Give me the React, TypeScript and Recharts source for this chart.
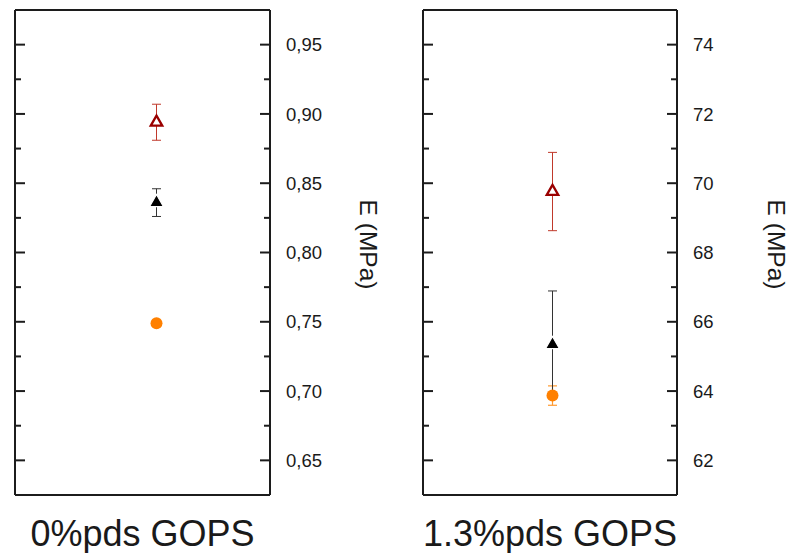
import React from 'react';
import { ScatterChart, Scatter, XAxis, YAxis, ErrorBar, Label } from 'recharts';

// ---- data ----
const categories = ['0%pds GOPS', '1.3%pds GOPS'];
const openRedValues = [0.894, 69.76];
const openRedErrors = [0.013, 1.13];
const blackValues = [0.836, 65.34];
const blackErrors = [0.01, 1.55];
const orangeValues = [0.749, 63.87];
const orangeErrors = [0, 0.28];

const yDomains: [number, number][] = [
  [0.625, 0.975],
  [61, 75],
];
const majorTicks = [
  [0.65, 0.7, 0.75, 0.8, 0.85, 0.9, 0.95],
  [62, 64, 66, 68, 70, 72, 74],
];
const minorTicks = [
  [0.675, 0.725, 0.775, 0.825, 0.875, 0.925],
  [63, 65, 67, 69, 71, 73],
];
const tickDecimals = [2, 0];
const yTitle = 'E (MPa)';

// ---- styles ----
const FONT = "'Liberation Sans', Arial, Helvetica, sans-serif";
const FRAME = '#1c1c1c';
const TEXT = '#1a1a1a';

const panels = [
  { left: 0, width: 400, marginLeft: 14, rightWidth: 130, padLeft: 28, padRight: 0, titleOffset: 98 },
  { left: 400, width: 389, marginLeft: 22, rightWidth: 112, padLeft: 5, padRight: 0, titleOffset: 99 },
];

const isMajor = (v: number, list: number[]) => list.some((m) => Math.abs(m - v) < 1e-9);

const makeRightTick = (idx: number, plotWidth: number) => (props: any) => {
  const { x, y, payload } = props;
  const v = payload.value as number;
  const major = isMajor(v, majorTicks[idx]);
  const len = major ? 10 : 6;
  const xl = x - plotWidth;
  return (
    <g>
      <line x1={x - len} x2={x} y1={y} y2={y} stroke={FRAME} strokeWidth={2} />
      <line x1={xl} x2={xl + len} y1={y} y2={y} stroke={FRAME} strokeWidth={2} />
      {major && (
        <text x={x + 16} y={y} dy="0.36em" fontSize={18.5} fill={TEXT} fontFamily={FONT} textAnchor="start">
          {v.toFixed(tickDecimals[idx]).replace('.', ',')}
        </text>
      )}
    </g>
  );
};

const openTriangle = (props: any) => {
  const { cx, cy } = props;
  const s = 11.5;
  const h = (s * Math.sqrt(3)) / 2;
  const d = `M${cx},${cy - (2 * h) / 3} L${cx + s / 2},${cy + h / 3} L${cx - s / 2},${cy + h / 3} Z`;
  return <path d={d} fill="#ffffff" stroke="#9a0000" strokeWidth={2.3} strokeLinejoin="miter" />;
};

const filledTriangle = (props: any) => {
  const { cx, cy } = props;
  const s = 14;
  const h = (s * Math.sqrt(3)) / 2;
  const d = `M${cx},${cy - (2 * h) / 3} L${cx + s / 2},${cy + h / 3} L${cx - s / 2},${cy + h / 3} Z`;
  return <path d={d} fill="#000000" stroke="#ffffff" strokeWidth={1.2} />;
};

const orangeDot = (props: any) => {
  const { cx, cy } = props;
  return <circle cx={cx} cy={cy} r={6} fill="#ff8000" />;
};

const makeTitle = (offset: number) => (props: any) => {
  const vb = props.viewBox || {};
  const cx = vb.x + offset;
  const cy = vb.y + vb.height / 2 - 8;
  return (
    <text
      x={cx}
      y={cy}
      transform={`rotate(90, ${cx}, ${cy})`}
      textAnchor="middle"
      dominantBaseline="central"
      fontSize={24.5}
      fill={TEXT}
      fontFamily={FONT}
    >
      {yTitle}
    </text>
  );
};

function Panel({ idx }: { idx: number }) {
  const p = panels[idx];
  const cat = categories[idx];
  const plotWidth = p.width - p.marginLeft - 1 - p.rightWidth;
  const ticks = [...majorTicks[idx], ...minorTicks[idx]].sort((a, b) => a - b);
  const orangeData = [{ cat, y: orangeValues[idx], err: orangeErrors[idx] }];
  const blackData = [{ cat, y: blackValues[idx], err: blackErrors[idx] }];
  const redData = [{ cat, y: openRedValues[idx], err: openRedErrors[idx] }];
  return (
    <div style={{ position: 'absolute', left: p.left, top: 0, width: p.width, height: 553 }}>
      <ScatterChart width={p.width} height={553} margin={{ top: 9, right: 0, bottom: 0, left: p.marginLeft }}>
        <XAxis
          xAxisId="b"
          dataKey="cat"
          type="category"
          allowDuplicatedCategory={false}
          orientation="bottom"
          height={58}
          tick={false}
          tickLine={false}
          axisLine={{ stroke: FRAME, strokeWidth: 2 }}
          padding={{ left: p.padLeft, right: p.padRight }}
        >
          <Label value={cat} position="insideBottom" offset={7} fontSize={36} fill={TEXT} fontFamily={FONT} />
        </XAxis>
        <XAxis
          xAxisId="t"
          dataKey="cat"
          type="category"
          allowDuplicatedCategory={false}
          orientation="top"
          height={1}
          tick={false}
          tickLine={false}
          axisLine={{ stroke: FRAME, strokeWidth: 2 }}
        />
        <YAxis
          yAxisId="l"
          dataKey="y"
          type="number"
          orientation="left"
          width={1}
          domain={yDomains[idx]}
          tick={false}
          tickLine={false}
          axisLine={{ stroke: FRAME, strokeWidth: 2 }}
        />
        <YAxis
          yAxisId="r"
          dataKey="y"
          type="number"
          orientation="right"
          width={p.rightWidth}
          domain={yDomains[idx]}
          ticks={ticks}
          interval={0}
          tickSize={0}
          tickMargin={0}
          tickLine={false}
          tick={makeRightTick(idx, plotWidth)}
          axisLine={{ stroke: FRAME, strokeWidth: 2 }}
        >
          <Label content={makeTitle(p.titleOffset)} />
        </YAxis>
        <Scatter xAxisId="b" yAxisId="r" data={orangeData} dataKey="y" shape={orangeDot} isAnimationActive={false}>
          <ErrorBar dataKey="err" direction="y" width={4.5} stroke="#ff9a30" strokeWidth={1.2} isAnimationActive={false} />
        </Scatter>
        <Scatter xAxisId="b" yAxisId="r" data={blackData} dataKey="y" shape={filledTriangle} isAnimationActive={false}>
          <ErrorBar dataKey="err" direction="y" width={4.5} stroke="#333333" strokeWidth={1} isAnimationActive={false} />
        </Scatter>
        <Scatter xAxisId="b" yAxisId="r" data={redData} dataKey="y" shape={openTriangle} isAnimationActive={false}>
          <ErrorBar dataKey="err" direction="y" width={4.5} stroke="#c0392b" strokeWidth={1} isAnimationActive={false} />
        </Scatter>
      </ScatterChart>
    </div>
  );
}

export default function App() {
  return (
    <div
      style={{
        position: 'absolute',
        left: 0,
        top: 0,
        width: 789,
        height: 553,
        background: '#ffffff',
        fontFamily: FONT,
      }}
    >
      <Panel idx={0} />
      <Panel idx={1} />
    </div>
  );
}
